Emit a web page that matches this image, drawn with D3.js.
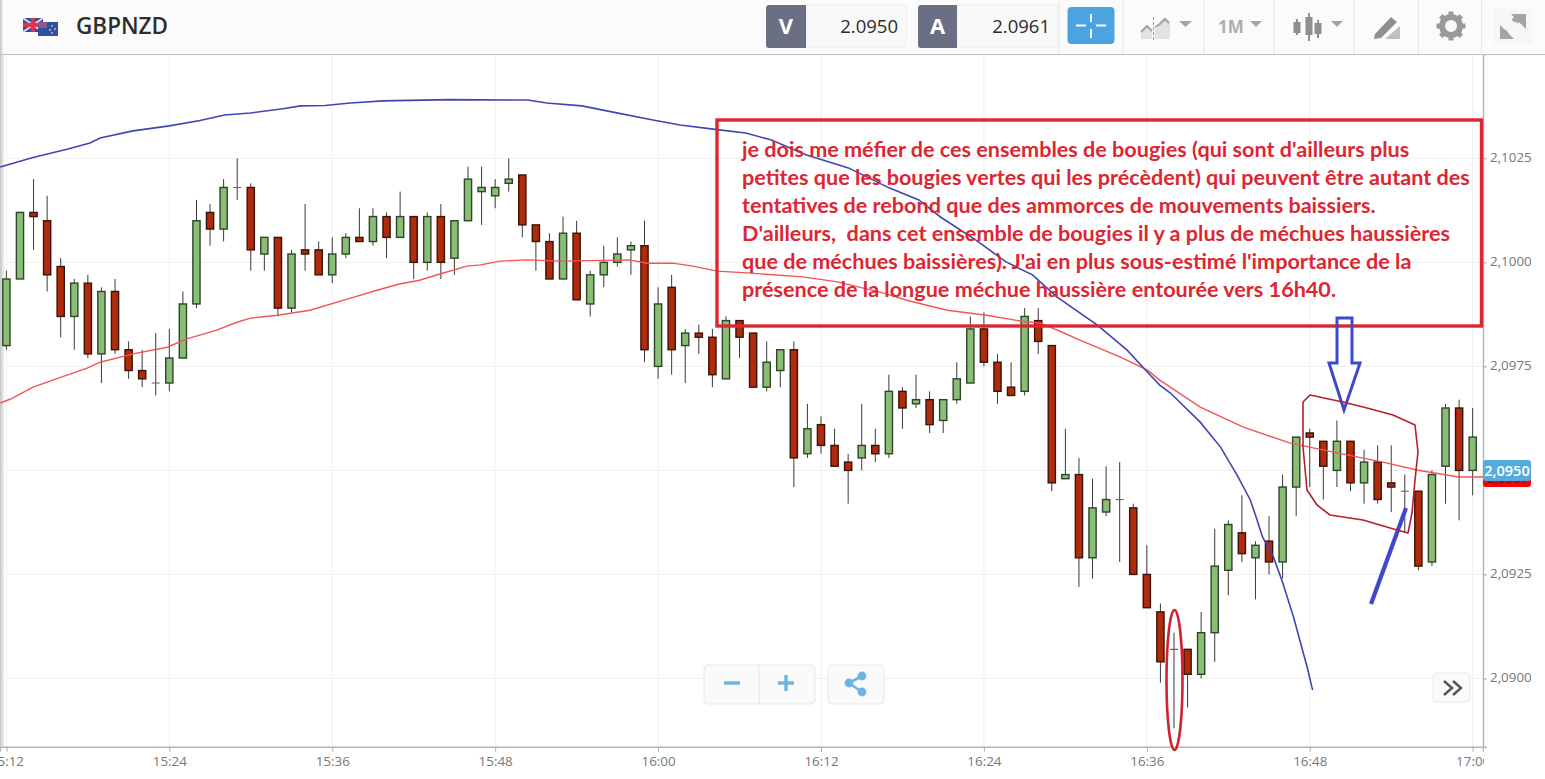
<!DOCTYPE html>
<html lang="fr"><head><meta charset="utf-8">
<script src="https://cdn.jsdelivr.net/npm/d3@7/dist/d3.min.js"></script>
<style>html,body{margin:0;padding:0;background:#fff;overflow:hidden}svg{display:block}text{font-family:"Open Sans",sans-serif}</style>
</head><body><svg id="c" width="1545" height="779"></svg>
<script>
// Prices are stored in units of 0.0001 (20998 = 2,0998). Index = minutes since 15:12.
const opens =[20980,20996,21012,21010,20999,20987,20995,20978,20993,20979,20974,20971,20971,20977,20990,21012,21008,21018,21018,21002,21006,20989,21003,21003,20997,21002,21006,21005,21011,21006,21011,21000,21011,21001,21010,21017,21016,21019,21021,21009,21005,20996,21007,20990,20997,21000,21003,21004,20975,20994,20980,20983,20982,20972,20986,20983,20970,20974,20979,20954,20961,20956,20952,20953,20956,20954,20969,20966,20967,20962,20967,20971,20984,20976,20970,20969,20986,20980,20948,20949,20929,20940,20943,20941,20925,20916,20907,20907,20901,20911,20926,20935,20929,20933,20928,20946,20959,20957,20950,20957,20947,20952,20947,20945,20945,20928,20951,20965,20950];
const highs =[20998,21012,21020,21016,21001,20996,20997,20994,20996,20981,20979,20983,20984,20993,21015,21014,21020,21025,21019,21006,21006,21003,21014,21005,21006,21007,21013,21013,21012,21017,21011,21012,21014,21010,21023,21023,21020,21025,21021,21009,21007,21011,21010,20998,21004,21006,21005,21010,20994,20997,20984,20985,20984,20987,20986,20983,20981,20979,20981,20966,20963,20960,20954,20966,20960,20973,20970,20973,20969,20967,20976,20987,20988,20978,20976,20989,20989,20980,20960,20953,20948,20951,20952,20942,20932,20918,20911,20907,20916,20936,20938,20944,20933,20939,20949,20958,20960,20957,20962,20957,20955,20956,20956,20949,20945,20950,20966,20967,20965];
const lows  =[20979,20996,21003,20993,20982,20979,20977,20971,20978,20972,20970,20968,20969,20977,20989,21004,21005,21015,20998,20998,20987,20988,20998,20997,20995,21001,21005,21004,21001,21006,20996,20998,20996,20997,21010,21009,21013,21017,21006,20998,20996,20996,20991,20987,20994,20999,20997,20976,20972,20973,20971,20978,20970,20972,20977,20970,20969,20970,20946,20953,20954,20951,20942,20950,20952,20953,20960,20965,20959,20959,20966,20971,20975,20966,20968,20968,20978,20945,20948,20922,20924,20939,20928,20925,20917,20899,20888,20893,20900,20904,20920,20928,20919,20925,20924,20939,20946,20943,20946,20945,20942,20942,20940,20935,20926,20927,20942,20938,20944];
const closes=[20996,21012,21011,20997,20987,20995,20978,20993,20979,20974,20972,20971,20977,20990,21010,21008,21018,21018,21003,21006,20989,21002,21002,20997,21002,21006,21005,21011,21006,21011,21000,21011,21000,21010,21020,21018,21018,21020,21009,21005,20996,21007,20991,20997,21000,21002,21004,20979,20990,20979,20983,20982,20973,20986,20982,20970,20976,20979,20953,20960,20956,20951,20950,20956,20954,20969,20965,20967,20961,20967,20972,20984,20976,20969,20968,20987,20981,20947,20949,20929,20941,20943,20943,20925,20917,20904,20907,20901,20911,20927,20937,20930,20932,20928,20946,20958,20958,20951,20957,20947,20952,20943,20946,20945,20927,20949,20965,20950,20958];

const longAvgT=[-0.46,1.96,4.46,6.16,6.9,9.33,12,14.26,16.08,17.98,20.37,21.66,23.46,25.35,27.74,32.68,38.41,39.8,42.39,44.68,47.62,49.62,52.36,54.45,56.34,58.94,62.02,65.01,67.21,68.8,71.39,73.63,75.58,77.37,80.36,82.55,84.05,84.95,85.74,87.93,89.43,90.73,91.62,92.12,92.52,93.32,94.01,94.81,95.81,96.21];
const longAvgP=[21022.9,21025.2,21027.2,21028.7,21029.9,21031.6,21032.8,21034.1,21035.4,21035.9,21036.9,21037.6,21037.7,21038.3,21038.8,21039.1,21039,21038.3,21037.6,21036.1,21034.2,21033,21031.9,21031.1,21029.4,21025.8,21022.7,21017.9,21015,21010.9,21005.4,21000.1,20997,20991.7,20984.9,20978.9,20973.6,20970.5,20968.6,20961.6,20955.6,20948.4,20942.9,20938.1,20934,20929.2,20923,20914.7,20902.7,20897.2];
const shortAvgT=[-0.46,0.27,1.96,4.46,5.94,6.9,9.33,11.83,13.29,15.49,16.98,17.98,19.97,22.36,25.35,27.3,28.94,30.43,31.93,33.92,34.92,36.36,38.31,40.8,45.88,47.18,49.07,50.56,52.36,54.85,58.64,61.23,64.62,66.31,69.3,72.19,74.68,76.18,77.77,79.07,82.06,84.05,84.95,87.93,91.12,94.51,98,101.39,103.88,106.97,108.76];
const shortAvgP=[20966.2,20967.1,20970,20972.9,20974.6,20976,20978,20979.6,20981.6,20983.7,20985.6,20986.6,20987.3,20988.5,20991.4,20993.3,20994.8,20995.7,20997.2,20999.1,20999.4,21000.3,21000.6,21000.3,21000.6,20999.8,20999.8,20999.1,20997.9,20997.4,20996.5,20995.3,20992.6,20990.9,20988.5,20987.3,20985.9,20985.4,20983.2,20981.3,20977.2,20974.1,20971.7,20965.2,20960.4,20956.6,20954.2,20952,20950.1,20948.4,20948.4];

const priceTicks=[21025,21000,20975,20950,20925,20900];
// 2,0950 is covered by the live-price badge in the reference, so its axis label is empty.
const priceTickLabels=["2,1025","2,1000","2,0975","","2,0925","2,0900"];
const timeTicks=[0,12,24,36,48,60,72,84,96,108];
const timeLabels=["15:12","15:24","15:36","15:48","16:00","16:12","16:24","16:36","16:48","17:00"];
const noteLines=["je dois me méfier de ces ensembles de bougies (qui sont d'ailleurs plus",
"petites que les bougies vertes qui les précèdent) qui peuvent être autant des",
"tentatives de rebond que des ammorces de mouvements baissiers.",
"D'ailleurs,  dans cet ensemble de bougies il y a plus de méchues haussières",
"que de méchues baissières). J'ai en plus sous-estimé l'importance de la",
"présence de la longue méchue haussière entourée vers 16h40."];

const svg=d3.select("#c");
const plotR=1483,plotT=54,plotB=746.7;
const x=d3.scaleLinear().domain([-0.471,108.76]).range([0,plotR]);
const y=d3.scaleLinear().domain([20883.6,21050.07]).range([plotB,plotT]);
const defs=svg.append("defs");
defs.append("clipPath").attr("id","plot").append("rect").attr("x",0).attr("y",plotT).attr("width",plotR).attr("height",plotB-plotT);
defs.append("clipPath").attr("id","xlab").append("rect").attr("x",0).attr("y",-2).attr("width",plotR+1).attr("height",34);
const lg=defs.append("linearGradient").attr("id","edge");
lg.append("stop").attr("offset",0).attr("stop-color","#c4c4c4");
lg.append("stop").attr("offset",1).attr("stop-color","#ffffff");

// grid
const grid=svg.append("g");
grid.selectAll("line.h").data(priceTicks).join("line").attr("x1",0).attr("x2",plotR).attr("y1",d=>y(d)).attr("y2",d=>y(d)).attr("stroke","#f1f1f1").attr("stroke-width",1.2);
grid.selectAll("line.v").data(timeTicks).join("line").attr("x1",d=>x(d)).attr("x2",d=>x(d)).attr("y1",plotT).attr("y2",plotB).attr("stroke","#f0f0f2").attr("stroke-width",1);
svg.append("rect").attr("x",0).attr("y",plotT).attr("width",5).attr("height",plotB-plotT).attr("fill","url(#edge)");

// axes
const ya=svg.append("g").attr("transform",`translate(${plotR},0)`).call(d3.axisRight(y).tickValues(priceTicks).tickSize(4).tickPadding(3).tickFormat((d,i)=>priceTickLabels[i]));
const xa=svg.append("g").attr("transform",`translate(0,${plotB})`).attr("clip-path","url(#xlab)").call(d3.axisBottom(x).tickValues(timeTicks).tickSize(5).tickPadding(3).tickFormat((d,i)=>timeLabels[i]));
[ya,xa].forEach(a=>{a.selectAll("text").attr("fill","#777").style("font-size","13.4px").style("font-family","'Open Sans',sans-serif");a.selectAll("line").attr("stroke","#aaa");a.select(".domain").attr("stroke","#b5b5b5").attr("stroke-width",1.5);});
ya.selectAll("text").attr("dy","0.24em");
xa.selectAll("text").attr("dy","0.85em");

// candles
const idx=d3.range(opens.length);
const plot=svg.append("g").attr("clip-path","url(#plot)");
const GREEN="#8abe77",RED="#b02b0c";
plot.selectAll("line.w").data(idx).join("line").attr("x1",i=>x(i)).attr("x2",i=>x(i)).attr("y1",i=>y(highs[i])).attr("y2",i=>y(lows[i])).attr("stroke","#3a3a3a").attr("stroke-width",1);
const body=idx.filter(i=>opens[i]!==closes[i]);
plot.selectAll("rect.b").data(body).join("rect")
 .attr("x",i=>x(i)-3.6).attr("width",7.2)
 .attr("y",i=>y(Math.max(opens[i],closes[i]))).attr("height",i=>Math.abs(y(opens[i])-y(closes[i])))
 .attr("fill",i=>closes[i]>opens[i]?GREEN:RED)
 .attr("stroke",i=>closes[i]>opens[i]?"#2e452a":"#3a130a").attr("stroke-width",1.4);
plot.selectAll("line.d").data(idx.filter(i=>opens[i]===closes[i])).join("line")
 .attr("x1",i=>x(i)-4).attr("x2",i=>x(i)+4).attr("y1",i=>y(opens[i])).attr("y2",i=>y(opens[i])).attr("stroke","#666").attr("stroke-width",1.1);

// moving averages
const line=d3.line().x(d=>x(d[0])).y(d=>y(d[1]));
plot.append("path").attr("d",line(d3.zip(shortAvgT,shortAvgP))).attr("fill","none").attr("stroke","#f25555").attr("stroke-width",1.4);
plot.append("path").attr("d",line(d3.zip(longAvgT,longAvgP))).attr("fill","none").attr("stroke","#4046b4").attr("stroke-width",1.6);

// price badges
svg.append("rect").attr("x",1483).attr("y",469).attr("width",48).attr("height",18).attr("rx",3).attr("fill","#f40606");
svg.append("text").attr("x",1507).attr("y",483).attr("text-anchor","middle").attr("fill","#7a1010").style("font-size","13px").text("2,0961");
svg.append("rect").attr("x",1483).attr("y",460).attr("width",48).attr("height",21).attr("rx",3).attr("fill","#55acdc");
svg.append("text").attr("x",1507).attr("y",475.5).attr("text-anchor","middle").attr("fill","#fff").style("font-size","14.5px").style("font-weight",600).text("2,0950");

// header
const h=svg.append("g");
h.append("rect").attr("width",1545).attr("height",54).attr("fill","#fbfbfb");
h.append("rect").attr("x",0).attr("y",0).attr("width",4).attr("height",54).attr("fill","url(#edge)");
h.append("line").attr("x1",0).attr("x2",1545).attr("y1",54.5).attr("y2",54.5).attr("stroke","#bdbdbd").attr("stroke-width",1.2);
[1059,1123,1204,1274,1354,1418.5,1481.5].forEach(v=>h.append("line").attr("x1",v).attr("x2",v).attr("y1",0).attr("y2",54).attr("stroke","#e6e6e6"));
// flags
const uk=h.append("g");
uk.append("rect").attr("x",23).attr("y",18).attr("width",20).attr("height",14).attr("fill","#3d4a92");
[[23,18,43,32],[43,18,23,32]].forEach(l=>uk.append("line").attr("x1",l[0]).attr("y1",l[1]).attr("x2",l[2]).attr("y2",l[3]).attr("stroke","#f0d6dc").attr("stroke-width",2));
uk.append("rect").attr("x",31).attr("y",18).attr("width",4).attr("height",14).attr("fill","#d8384f");
uk.append("rect").attr("x",23).attr("y",23).attr("width",20).attr("height",4).attr("fill","#d8384f");
h.append("rect").attr("x",38).attr("y",22).attr("width",20).attr("height",14).attr("fill","#2f4f9f");
h.append("rect").attr("x",38).attr("y",22).attr("width",9).attr("height",6).attr("fill","#8a5a90");
[[52,26],[55,29],[50,30],[52,33]].forEach(p=>h.append("circle").attr("cx",p[0]).attr("cy",p[1]).attr("r",0.9).attr("fill","#f3b0b8"));
h.append("text").attr("x",76).attr("y",34).attr("fill","#2e2e2e").style("font-size","22.5px").style("font-weight",600).text("GBPNZD");
// bid / ask
[[766,806,906,"V","2.0950"],[918,957,1058,"A","2.0961"]].forEach(b=>{
 h.append("rect").attr("x",b[1]).attr("y",5).attr("width",b[2]-b[1]).attr("height",42).attr("rx",3).attr("fill","#f9f9f9").attr("stroke","#ececec");
 h.append("path").attr("d",`M${b[1]} 5H${b[0]+3}Q${b[0]} 5 ${b[0]} 8V45Q${b[0]} 48 ${b[0]+3} 48H${b[1]}Z`).attr("fill","#6a6f84");
 h.append("text").attr("x",(b[0]+b[1])/2).attr("y",34).attr("text-anchor","middle").attr("fill","#fff").style("font-size","22px").style("font-weight",700).text(b[3]);
 h.append("text").attr("x",b[2]-8).attr("y",32.5).attr("text-anchor","end").attr("fill","#2b2b2b").style("font-size","18.5px").text(b[4]);
});
h.append("rect").attr("x",1067.5).attr("y",7).attr("width",47).attr("height",37).attr("rx",4).attr("fill","#4ba3df");
[[1091,14,1091,22],[1091,29,1091,38],[1076,25.5,1086,25.5],[1096,25.5,1106,25.5]].forEach(l=>h.append("line").attr("x1",l[0]).attr("y1",l[1]).attr("x2",l[2]).attr("y2",l[3]).attr("stroke","#fff").attr("stroke-width",2));
const G="#a4a4a4";
[[1179,1192],[1250,1262],[1331,1343]].forEach(t=>h.append("path").attr("d",`M${t[0]} 21H${t[1]}L${(t[0]+t[1])/2} 27Z`).attr("fill",G));
// chart-type icon
h.append("path").attr("d","M1141 39V31L1147 25L1152 30V39Z M1155 39V27L1163 18L1170 22V39Z").attr("fill","#e2e2e2");
h.append("path").attr("d","M1141 32L1147 26L1152 31 M1155 27L1160 24L1165 19L1169 23").attr("fill","none").attr("stroke",G).attr("stroke-width",2);
h.append("line").attr("x1",1153.5).attr("x2",1153.5).attr("y1",17).attr("y2",40).attr("stroke","#999").attr("stroke-dasharray","3,2");
h.append("text").attr("x",1218).attr("y",33).attr("fill","#aeaeae").style("font-size","17px").style("font-weight",700).text("1M");
// candles icon
[[1297,19,35,22,33],[1309,13,41,17,35],[1318,20,38,23,34]].forEach(c=>{
 h.append("line").attr("x1",c[0]).attr("x2",c[0]).attr("y1",c[1]).attr("y2",c[2]).attr("stroke","#8f8f8f").attr("stroke-width",2);
 h.append("rect").attr("x",c[0]-3.5).attr("width",7).attr("y",c[3]).attr("height",c[4]-c[3]).attr("fill","#8f8f8f");});
// drawing icon
h.append("path").attr("d","M1375 34L1391 17L1397 22L1381 38L1374 39Z").attr("fill","#8f8f8f");
h.append("path").attr("d","M1385 39L1400 26V39Z").attr("fill","#c0c0c0");
// gear
h.append("circle").attr("cx",1451).attr("cy",26).attr("r",9).attr("fill","none").attr("stroke","#9a9a9a").attr("stroke-width",6);
d3.range(8).forEach(k=>h.append("rect").attr("x",1448.5).attr("y",11.5).attr("width",5).attr("height",6).attr("fill","#9a9a9a").attr("transform",`rotate(${k*45} 1451 26)`));
// expand
h.append("rect").attr("x",1494).attr("y",9).attr("width",38).attr("height",36).attr("fill","#f6f6f6");
h.append("path").attr("d","M1517 17L1513 21 M1522 16L1516 22 M1507 31L1503 35").attr("stroke",G).attr("stroke-width",4);
h.append("path").attr("d","M1511 14H1526V29Z M1500 25V39H1514Z").attr("fill",G);

// bottom controls
const box=(a,b,t,bt)=>svg.append("rect").attr("x",a).attr("y",t).attr("width",b-a).attr("height",bt-t).attr("rx",4).attr("fill","#fafafa").attr("stroke","#e8e8e8");
box(704,815,665,704);box(828,884,665,704);box(1433,1470,673,702);
svg.append("line").attr("x1",759).attr("x2",759).attr("y1",665).attr("y2",704).attr("stroke","#e4e4e4");
const BL="#6db4e2";
svg.append("path").attr("d","M724 683H740 M778 683H794 M786 675V691").attr("stroke",BL).attr("stroke-width",3.4).attr("fill","none");
svg.append("path").attr("d","M862 676L849 683L862 692").attr("stroke",BL).attr("stroke-width",2.6).attr("fill","none");
[[862,676],[849,683],[862,692]].forEach(p=>svg.append("circle").attr("cx",p[0]).attr("cy",p[1]).attr("r",4.4).attr("fill",BL));
svg.append("path").attr("d","M1444 681L1452 688L1444 695 M1453 681L1461 688L1453 695").attr("stroke","#555").attr("stroke-width",2.4).attr("fill","none");

// hand annotations
const a=svg.append("g");
a.append("rect").attr("x",717).attr("y",120).attr("width",764.5).attr("height",206).attr("fill","none").attr("stroke","#dc2733").attr("stroke-width",3.4);
a.append("g").selectAll("text").data(noteLines).join("text").attr("x",742).attr("y",(d,i)=>157+i*28)
 .attr("fill","#dc2733").style("font-family","Lato,sans-serif").style("font-weight",700).style("font-size","21.6px").style("white-space","pre").attr("xml:space","preserve").text(d=>d);
a.append("path").attr("d","M1337 318H1352V363H1360L1344 410L1329 363H1337Z").attr("fill","none").attr("stroke","#3f48cc").attr("stroke-width",3);
a.append("line").attr("x1",1371).attr("y1",604).attr("x2",1406).attr("y2",508).attr("stroke","#3f48cc").attr("stroke-width",4.2);
a.append("ellipse").attr("cx",1174.5).attr("cy",680).attr("rx",8).attr("ry",70).attr("fill","none").attr("stroke","#cf2230").attr("stroke-width",2.6);
a.append("path").attr("d","M1303 402L1310 395L1343 402L1367 408L1393 415L1415 425L1418 452L1415 480L1412 513L1408 533L1397 530L1363 520L1330 515L1317 505L1307 490L1303 447Z")
 .attr("fill","none").attr("stroke","#b5202a").attr("stroke-width",1.6).attr("stroke-linejoin","round");
</script></body></html>
